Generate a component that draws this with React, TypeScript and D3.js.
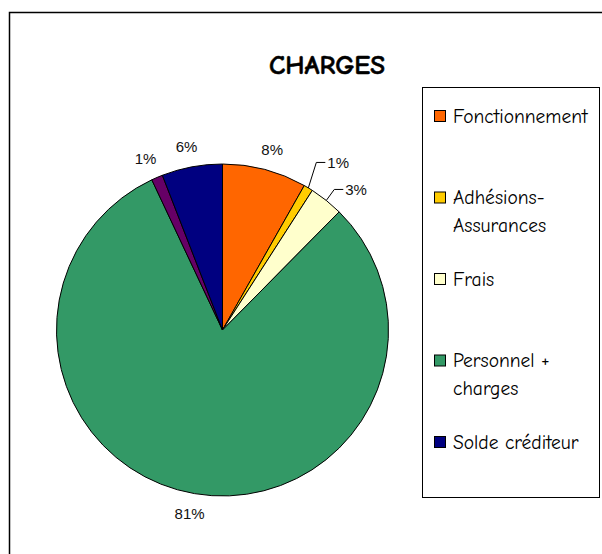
import { useEffect, useRef } from 'react';
import * as d3 from 'd3';

const categories = ['Fonctionnement', 'Adhésions-Assurances', 'Frais', 'Personnel + charges', 'Autres', 'Solde créditeur'];
const values = [8.2, 0.9, 3.3, 80.6, 1.1, 5.9];
const legendLabels = [['Fonctionnement'], ['Adhésions-', 'Assurances'], ['Frais'], ['Personnel +', 'charges'], ['Solde créditeur']];
const legendKeys = ['Fonctionnement', 'Adhésions-Assurances', 'Frais', 'Personnel + charges', 'Solde créditeur'];
const colors = ['#FF6600', '#FFCC00', '#FFFFCC', '#339966', '#660066', '#000080'];

const comic = "'Comic Sans MS', 'Comic Neue', 'DejaVu Sans', sans-serif";
const arial = "Arial, 'Liberation Sans', sans-serif";

export default function App() {
  const svgRef = useRef<SVGSVGElement>(null);

  useEffect(() => {
    if (!svgRef.current) return;
    const svg = d3.select(svgRef.current);
    svg.selectAll('*').remove();

    const width = 602;
    const height = 554;
    const cx = 222.5;
    const cy = 330;
    const radius = 166;

    svg.attr('width', width).attr('height', height).attr('viewBox', `0 0 ${width} ${height}`);

    // outer chart frame (runs off the page right and bottom)
    svg.append('rect')
      .attr('x', 9.5).attr('y', 12.5)
      .attr('width', 620).attr('height', 600)
      .attr('fill', '#fff').attr('stroke', '#000').attr('stroke-width', 1.5);

    svg.append('text')
      .attr('x', 327).attr('y', 74)
      .attr('text-anchor', 'middle')
      .attr('font-family', comic).attr('font-weight', 900).attr('font-size', 27)
      .attr('stroke', '#000').attr('stroke-width', 0.5)
      .text('CHARGES');

    const data = categories.map((c, i) => ({ name: c, value: values[i], color: colors[i] }));
    const pie = d3.pie<any>().sort(null).value((d) => d.value);
    const arcs = pie(data);
    const arc = d3.arc<any>().innerRadius(0).outerRadius(radius);

    const g = svg.append('g').attr('transform', `translate(${cx},${cy})`);

    g.selectAll('path.slice')
      .data(arcs)
      .join('path')
      .attr('class', 'slice')
      .attr('d', arc)
      .attr('fill', (d) => d.data.color)
      .attr('stroke', '#000')
      .attr('stroke-width', 1);

    const total = d3.sum(values);
    const pct = (v: number) => `${Math.round((v / total) * 100)}%`;

    // small slices in the upper-right get leader lines
    let prevY = Infinity;
    const leaderIdx = arcs
      .map((a, i) => i)
      .filter((i) => {
        const m = (arcs[i].startAngle + arcs[i].endAngle) / 2;
        return values[i] / total < 0.05 && m < Math.PI / 2;
      })
      .reverse();

    leaderIdx.forEach((i) => {
      const a = arcs[i];
      const m = (a.startAngle + a.endAngle) / 2;
      const sx = radius * Math.sin(m);
      const sy = -radius * Math.cos(m);
      const ey = Math.min(sy - 11, prevY - 27);
      const ex = sx + 8;
      prevY = ey;
      g.append('path')
        .attr('d', `M${sx},${sy}L${ex},${ey}L${ex + 9},${ey}`)
        .attr('fill', 'none').attr('stroke', '#000').attr('stroke-width', 1);
      g.append('text')
        .attr('x', ex + 11).attr('y', ey)
        .attr('dy', '0.35em')
        .attr('font-family', arial).attr('font-size', 15).attr('fill', '#111')
        .text(pct(values[i]));
    });

    arcs.forEach((a, i) => {
      if (leaderIdx.includes(i)) return;
      const m = (a.startAngle + a.endAngle) / 2;
      const p = radius + 11;
      const x = p * Math.sin(m) + Math.sin(m) * 18;
      const y = -p * Math.cos(m) - Math.cos(m) * 9;
      g.append('text')
        .attr('x', x).attr('y', y)
        .attr('dy', '0.35em')
        .attr('text-anchor', 'middle')
        .attr('font-family', arial).attr('font-size', 15).attr('fill', '#111')
        .text(pct(values[i]));
    });

    // legend
    const lg = svg.append('g');
    lg.append('rect')
      .attr('x', 422.5).attr('y', 87.5)
      .attr('width', 177).attr('height', 410)
      .attr('fill', '#fff').attr('stroke', '#000').attr('stroke-width', 1);

    legendLabels.forEach((lines, k) => {
      const idx = categories.indexOf(legendKeys[k]);
      const y0 = 116 + k * 81.5;
      lg.append('rect')
        .attr('x', 434.5).attr('y', y0 - 5.5)
        .attr('width', 11).attr('height', 11)
        .attr('fill', colors[idx]).attr('stroke', '#000').attr('stroke-width', 1);
      lines.forEach((t, j) => {
        lg.append('text')
          .attr('x', 453).attr('y', y0 + j * 28)
          .attr('dy', '0.35em')
          .attr('font-family', comic).attr('font-size', 19.5)
          .text(t);
      });
    });
  }, []);

  return <svg ref={svgRef} style={{ position: 'fixed', left: 0, top: 0, display: 'block' }} />;
}
